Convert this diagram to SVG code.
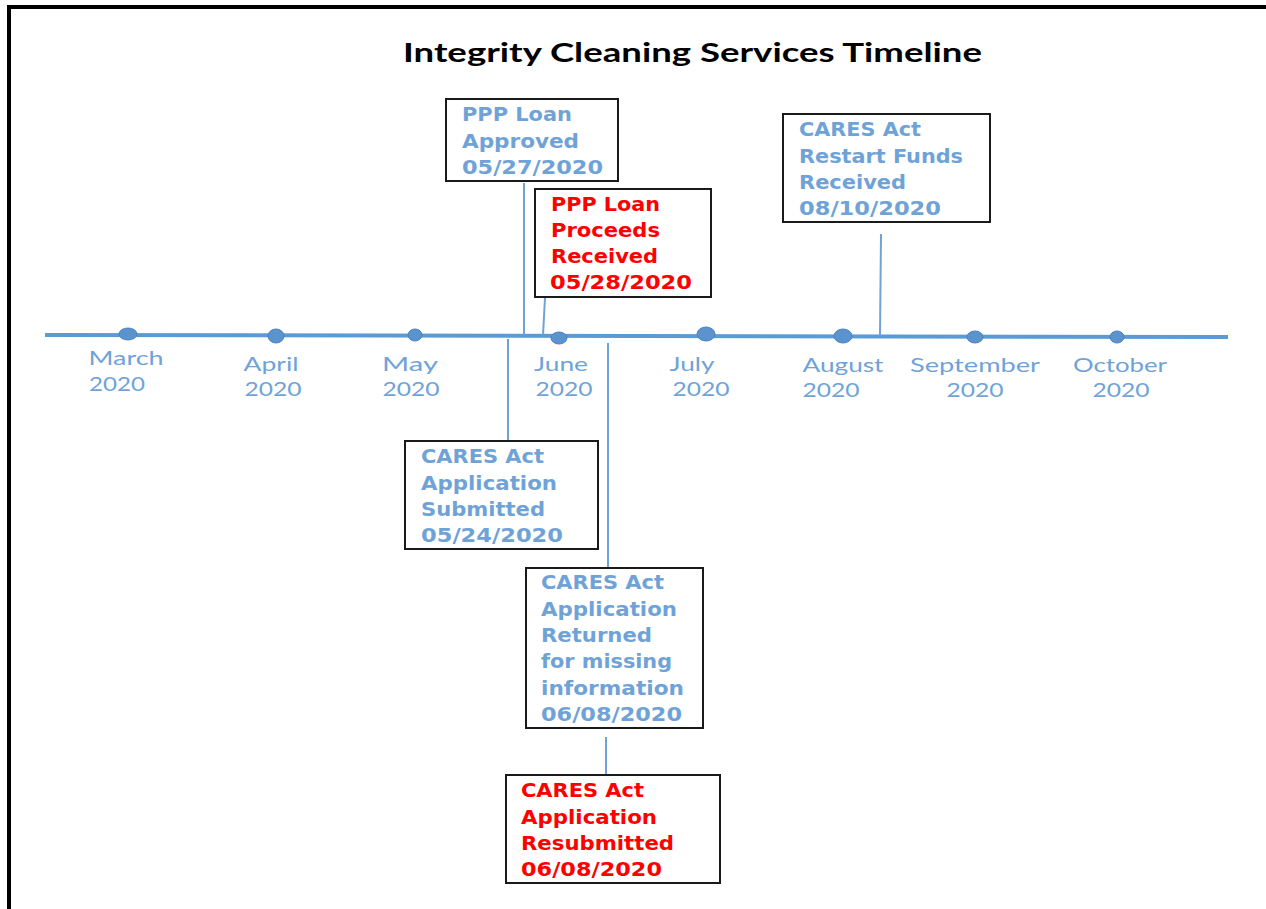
<svg xmlns="http://www.w3.org/2000/svg" width="1266" height="909" viewBox="0 0 1266 909">
<style>
.title{font-family:Lato,"Liberation Sans",Arial,sans-serif;font-weight:bold;font-size:26px;fill:#000}
.m{font-family:Lato,"Liberation Sans",sans-serif;font-size:19px;fill:#6fa3d8;text-anchor:middle}
.bx{fill:#fff;stroke:#1a1a1a;stroke-width:2}
.t{font-family:"DejaVu Sans","Liberation Sans",sans-serif;font-weight:bold;font-size:19px}
.blue{fill:#6fa3d8}
.red{fill:#ff0000}
.c{stroke:#6fa3d8;stroke-width:2;fill:none}
.dot{fill:#5b93cf;stroke:#4a82c0;stroke-width:1}
</style>
<rect width="1266" height="909" fill="#fff"/>
<path d="M9 909 V7 H1266" fill="none" stroke="#000" stroke-width="4"/>
<text class="title" x="403" y="62" textLength="579" lengthAdjust="spacingAndGlyphs">Integrity Cleaning Services Timeline</text>

<g id="timeline">
<path d="M45 335 L1228 337" stroke="#5b9bd5" stroke-width="4" fill="none"/>
<ellipse class="dot" cx="128" cy="334" rx="9" ry="6"/>
<ellipse class="dot" cx="276" cy="336" rx="8" ry="7"/>
<ellipse class="dot" cx="415" cy="335" rx="7" ry="6"/>
<ellipse class="dot" cx="559" cy="338" rx="8" ry="6"/>
<ellipse class="dot" cx="706" cy="334" rx="9" ry="7"/>
<ellipse class="dot" cx="843" cy="336" rx="9" ry="7"/>
<ellipse class="dot" cx="975" cy="337" rx="8" ry="6"/>
<ellipse class="dot" cx="1117" cy="337" rx="7" ry="6"/>
</g>

<g id="months">
<text class="m" x="126" y="365" textLength="75" lengthAdjust="spacingAndGlyphs">March</text>
<text class="m" x="117" y="391" textLength="56" lengthAdjust="spacingAndGlyphs">2020</text>
<text class="m" x="271" y="371" textLength="55" lengthAdjust="spacingAndGlyphs">April</text>
<text class="m" x="273" y="396" textLength="57" lengthAdjust="spacingAndGlyphs">2020</text>
<text class="m" x="410" y="371" textLength="56" lengthAdjust="spacingAndGlyphs">May</text>
<text class="m" x="411" y="396" textLength="57" lengthAdjust="spacingAndGlyphs">2020</text>
<text class="m" x="561" y="371" textLength="54" lengthAdjust="spacingAndGlyphs">June</text>
<text class="m" x="564" y="396" textLength="57" lengthAdjust="spacingAndGlyphs">2020</text>
<text class="m" x="692" y="371" textLength="45" lengthAdjust="spacingAndGlyphs">July</text>
<text class="m" x="701" y="396" textLength="57" lengthAdjust="spacingAndGlyphs">2020</text>
<text class="m" x="843" y="372" textLength="81" lengthAdjust="spacingAndGlyphs">August</text>
<text class="m" x="831" y="397" textLength="57" lengthAdjust="spacingAndGlyphs">2020</text>
<text class="m" x="975" y="372" textLength="130" lengthAdjust="spacingAndGlyphs">September</text>
<text class="m" x="975" y="397" textLength="57" lengthAdjust="spacingAndGlyphs">2020</text>
<text class="m" x="1120" y="372" textLength="94" lengthAdjust="spacingAndGlyphs">October</text>
<text class="m" x="1121" y="397" textLength="57" lengthAdjust="spacingAndGlyphs">2020</text>
</g>

<g id="connectors">
<line class="c" x1="524" y1="183" x2="524" y2="335"/>
<line class="c" x1="545" y1="298" x2="543" y2="335"/>
<line class="c" x1="881" y1="234" x2="880" y2="336"/>
<line class="c" x1="508" y1="339" x2="508" y2="441"/>
<line class="c" x1="608" y1="343" x2="608" y2="568"/>
<line class="c" x1="606" y1="737" x2="606" y2="775"/>
</g>

<g id="ppp-approved">
<rect class="bx" x="446" y="99" width="172" height="82"/>
<text class="t blue" x="462" y="121" textLength="110" lengthAdjust="spacingAndGlyphs">PPP Loan</text>
<text class="t blue" x="462" y="148" textLength="117" lengthAdjust="spacingAndGlyphs">Approved</text>
<text class="t blue" x="462" y="174" textLength="141" lengthAdjust="spacingAndGlyphs">05/27/2020</text>
</g>

<g id="ppp-proceeds">
<rect class="bx" x="535" y="189" width="176" height="108"/>
<text class="t red" x="551" y="211" textLength="109" lengthAdjust="spacingAndGlyphs">PPP Loan</text>
<text class="t red" x="551" y="237" textLength="109" lengthAdjust="spacingAndGlyphs">Proceeds</text>
<text class="t red" x="551" y="263" textLength="107" lengthAdjust="spacingAndGlyphs">Received</text>
<text class="t red" x="550" y="289" textLength="142" lengthAdjust="spacingAndGlyphs">05/28/2020</text>
</g>

<g id="cares-restart">
<rect class="bx" x="783" y="114" width="207" height="108"/>
<text class="t blue" x="799" y="136" textLength="122" lengthAdjust="spacingAndGlyphs">CARES Act</text>
<text class="t blue" x="799" y="163" textLength="164" lengthAdjust="spacingAndGlyphs">Restart Funds</text>
<text class="t blue" x="799" y="189" textLength="107" lengthAdjust="spacingAndGlyphs">Received</text>
<text class="t blue" x="799" y="215" textLength="142" lengthAdjust="spacingAndGlyphs">08/10/2020</text>
</g>

<g id="cares-submitted">
<rect class="bx" x="405" y="441" width="193" height="108"/>
<text class="t blue" x="421" y="463" textLength="123" lengthAdjust="spacingAndGlyphs">CARES Act</text>
<text class="t blue" x="421" y="490" textLength="136" lengthAdjust="spacingAndGlyphs">Application</text>
<text class="t blue" x="421" y="516" textLength="124" lengthAdjust="spacingAndGlyphs">Submitted</text>
<text class="t blue" x="421" y="542" textLength="142" lengthAdjust="spacingAndGlyphs">05/24/2020</text>
</g>

<g id="cares-returned">
<rect class="bx" x="526" y="568" width="177" height="160"/>
<text class="t blue" x="541" y="589" textLength="123" lengthAdjust="spacingAndGlyphs">CARES Act</text>
<text class="t blue" x="541" y="616" textLength="136" lengthAdjust="spacingAndGlyphs">Application</text>
<text class="t blue" x="541" y="642" textLength="111" lengthAdjust="spacingAndGlyphs">Returned</text>
<text class="t blue" x="541" y="668" textLength="131" lengthAdjust="spacingAndGlyphs">for missing</text>
<text class="t blue" x="541" y="695" textLength="143" lengthAdjust="spacingAndGlyphs">information</text>
<text class="t blue" x="541" y="721" textLength="141" lengthAdjust="spacingAndGlyphs">06/08/2020</text>
</g>

<g id="cares-resubmitted">
<rect class="bx" x="506" y="775" width="214" height="108"/>
<text class="t red" x="521" y="797" textLength="123" lengthAdjust="spacingAndGlyphs">CARES Act</text>
<text class="t red" x="521" y="824" textLength="136" lengthAdjust="spacingAndGlyphs">Application</text>
<text class="t red" x="521" y="850" textLength="153" lengthAdjust="spacingAndGlyphs">Resubmitted</text>
<text class="t red" x="521" y="876" textLength="141" lengthAdjust="spacingAndGlyphs">06/08/2020</text>
</g>
</svg>
